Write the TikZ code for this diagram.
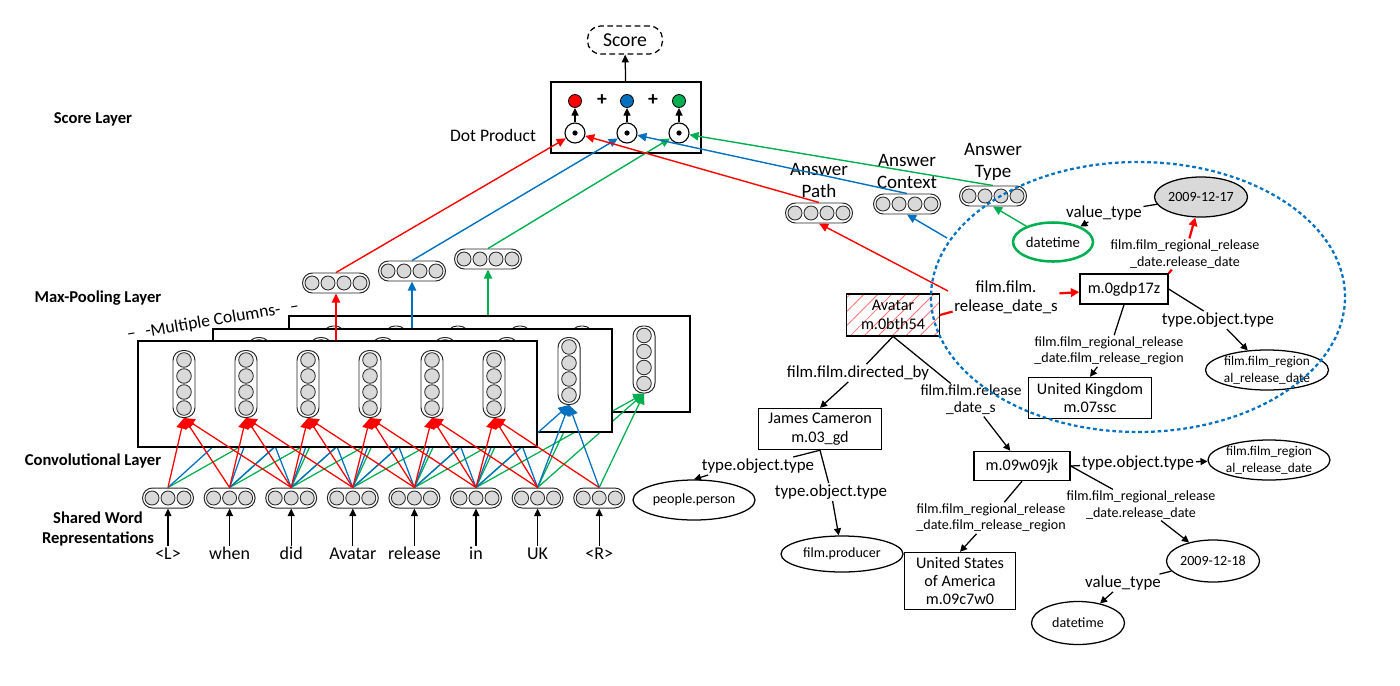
\documentclass[tikz,border=0pt]{standalone}
\usepackage{fontspec}
\setmainfont{Carlito}
\usepackage{xcolor}
\usepackage{tikz}
\usetikzlibrary{positioning, arrows.meta, shapes.geometric, patterns.meta}

\definecolor{cred}{HTML}{FF0000}
\definecolor{cblue}{HTML}{0070C0}
\definecolor{cgreen}{HTML}{00B050}
\definecolor{cellgray}{HTML}{D9D9D9}

\newdimen\pxu \pxu=0.025cm
\newcommand{\fsz}[2]{\fontsize{#1}{#2}\selectfont}

% horizontal vector with #3 cells
\newcommand{\hvec}[3]{%
  \node[vecbox, minimum width=(#3*16+3)*\pxu, minimum height=20\pxu] (#1) at #2 {};
  \foreach \ci in {1,...,#3}
    \draw[cellc] (#1.center) ++({(\ci-(#3+1)/2)*16},0) circle[radius=7\pxu];
}
% vertical vector with #3 cells
\newcommand{\vvec}[3]{%
  \node[vecbox, minimum width=22\pxu, minimum height=(#3*16+3)*\pxu] (#1) at #2 {};
  \foreach \ci in {1,...,#3}
    \draw[cellc] (#1.center) ++(0,{(\ci-(#3+1)/2)*16}) circle[radius=7.3\pxu];
}

\begin{document}
\begin{tikzpicture}[
  x=0.025cm, y=-0.025cm,
  every node/.style={font=\fsz{11.5}{13.5}},
  layername/.style={font=\bfseries\fsz{11.8}{14}, align=center},
  vecbox/.style={draw=black!85, line width=0.7pt, rounded corners=10\pxu, inner sep=0pt, fill=white},
  cellc/.style={draw=black!85, line width=0.6pt, fill=cellgray},
  convbox/.style={draw, line width=1.1pt, fill=white, inner sep=0pt},
  scorebox/.style={draw, dash pattern=on 4pt off 2.5pt, rounded corners=13\pxu, minimum width=75\pxu,
                   minimum height=28\pxu, line width=0.9pt, font=\fsz{14}{16}},
  dotbox/.style={draw, line width=1.1pt, minimum width=150\pxu, minimum height=71\pxu},
  sdot/.style={circle, draw, line width=0.6pt, minimum size=13\pxu, inner sep=0pt},
  odot/.style={circle, draw, line width=0.8pt, minimum size=20\pxu, inner sep=0pt},
  plussign/.style={font=\bfseries\fsz{14}{16}, inner sep=0pt},
  word/.style={font=\fsz{12.8}{14}, inner sep=1pt, text height=9pt, text depth=2pt},
  anslbl/.style={font=\fsz{13.5}{15.5}, align=center, inner sep=1pt},
  ent/.style={draw, line width=1pt, align=center, inner sep=2pt, font=\fsz{11.5}{13}},
  ell/.style={ellipse, draw, line width=0.9pt, align=center, inner sep=0pt, font=\fsz{10}{12}},
  elbl/.style={font=\fsz{12}{13.5}, align=center, inner sep=1pt},
  mlbl/.style={font=\fsz{11}{12}, align=center, inner sep=1pt},
  slbl/.style={font=\fsz{10}{11.5}, align=center, inner sep=1pt},
  blk/.style={line width=0.9pt, -{Triangle[length=5.5pt,width=5pt]}},
  carr/.style={line width=0.9pt, -{Triangle[length=7.5pt,width=7.5pt]}},
  parr/.style={line width=1pt, -{Triangle[length=6.5pt,width=6pt]}},
  kglink/.style={line width=0.9pt},
  kgarr/.style={kglink, -{Triangle[length=5pt,width=5pt]}},
  rlink/.style={cred, line width=1.6pt},
  rarrow/.style={rlink, -{Triangle[length=6pt,width=6pt]}},
  region/.style={ellipse, draw=cblue, line width=1.6pt, dash pattern=on 2.6pt off 2pt, inner sep=0pt},
]
\useasboundingbox (0,0) rectangle (1400,685);

% Layer names
\node[layername] (lscore) at (93,119) {Score Layer};
\node[layername] (lpool) at (98,298) {Max-Pooling Layer};
\node[layername] (lconv) at (93,461) {Convolutional Layer};
\node[layername] (lword) at (98,529) {Shared Word\\Representations};

% Score and dot product
\node[scorebox] (score) at (625,40) {Score};
\node[dotbox] (dotbox) at (626,117.5) {};
\draw[blk] (dotbox) -- (score);
\node[sdot, fill=cred] (sred) at (575,101) {};
\node[plussign] (plusA) at (602,100) {+};
\node[sdot, fill=cblue] (sblue) at (627,101) {};
\node[plussign] (plusB) at (653,100) {+};
\node[sdot, fill=cgreen] (sgreen) at (679,101) {};
\foreach \i/\x in {1/575, 2/627, 3/679} {
  \node[odot] (dot\i) at (\x,133) {};
  \fill (dot\i) circle[radius=2.6\pxu];
}
\draw[blk] (dot1) -- (sred);
\draw[blk] (dot2) -- (sblue);
\draw[blk] (dot3) -- (sgreen);
\node[anchor=east, font=\fsz{12.5}{14}] (dplbl) at (541,135) {Dot Product};

% Shared word representations
\foreach \w [count=\i from 0] in {<L>,when,did,Avatar,release,in,UK,<R>} {
  \node[word] (t\i) at ({168+61.6*\i},555) {\w};
  \hvec{e\i}{({168+61.6*\i},498)}{3}
  \draw[blk] (t\i.north) -- (e\i.south);
}

% Convolutional layer (three filters)
\node[convbox, minimum width=401\pxu, minimum height=96\pxu] (cbox3) at (489.5,364) {};
\foreach \k in {0,...,5} {\vvec{col3\k}{({334+62*\k},359.5)}{4}}
\foreach \k in {0,...,5} \foreach \j in {0,1,2} {
  \pgfmathtruncatemacro{\w}{\k+\j}
  \draw[carr, cgreen] (e\w.north) -- (col3\k.south);
}
\node[convbox, minimum width=399\pxu, minimum height=103\pxu] (cbox2) at (412.5,380.5) {};
\foreach \k in {0,...,5} {\vvec{col2\k}{({259+62*\k},371)}{4}}
\foreach \k in {0,...,5} \foreach \j in {0,1,2} {
  \pgfmathtruncatemacro{\w}{\k+\j}
  \draw[carr, cblue] (e\w.north) -- (col2\k.south);
}
\node[convbox, minimum width=399\pxu, minimum height=106\pxu] (cbox1) at (337.5,394) {};
\foreach \k in {0,...,5} {\vvec{col1\k}{({184+62*\k},384)}{4}}
\foreach \k in {0,...,5} \foreach \j in {0,1,2} {
  \pgfmathtruncatemacro{\w}{\k+\j}
  \draw[carr, cred] (e\w.north) -- (col1\k.south);
}

% Max-pooling layer
\hvec{mp1}{(336,283)}{4}
\hvec{mp2}{(412,271)}{4}
\hvec{mp3}{(488,259)}{4}
\draw[parr, cred] (mp1.south |- cbox1.north) -- (mp1.south);
\draw[parr, cblue] (mp2.south |- cbox2.north) -- (mp2.south);
\draw[parr, cgreen] (mp3.south |- cbox3.north) -- (mp3.south);
\node[rotate=9.5, inner sep=0pt, font=\fsz{12.5}{14}] (multi) at (213,321) {--\hspace{7pt}-Multiple Columns-\hspace{7pt}--};

\draw[parr, cred] (mp1.north) -- (dot1);
\draw[parr, cblue] (mp2.north) -- (dot2);
\draw[parr, cgreen] (mp3.north) -- (dot3);

% Answer vectors
\hvec{apath}{(819,213)}{4}
\hvec{actx}{(907,204)}{4}
\hvec{atype}{(993,196)}{4}
\node[anslbl, above=0.8mm of apath] (lpath) {Answer\\Path};
\node[anslbl, above=0.8mm of actx] (lctx) {Answer\\Context};
\node[anslbl, above=0.8mm of atype] (ltype) {Answer\\Type};
\draw[parr, cred] (apath.north) -- (dot1);
\draw[parr, cblue] (actx.north) -- (dot2);
\draw[parr, cgreen] (atype.north) -- (dot3);

% Knowledge base subgraph
\node[ent, minimum width=93\pxu, minimum height=42\pxu,
      pattern={Lines[angle=45, distance=7pt, line width=0.6pt]}, pattern color=cred!55] (avatar) at (893,315) {Avatar\\m.0bth54};
\node[ent, minimum width=88\pxu, minimum height=30\pxu] (mgdp) at (1124,289) {m.0gdp17z};
\node[ent, minimum width=123\pxu, minimum height=41\pxu] (ukbox) at (1090,398) {United Kingdom\\m.07ssc};
\node[ent, minimum width=123\pxu, minimum height=41\pxu] (jcam) at (820,429) {James Cameron\\m.03\_gd};
\node[ent, minimum width=96\pxu, minimum height=29\pxu] (mw) at (1022,466) {m.09w09jk};
\node[ent, minimum width=111\pxu, minimum height=57\pxu] (usa) at (960,581) {United States\\of America\\m.09c7w0};

\node[ell, minimum width=122\pxu, minimum height=40\pxu] (ppl) at (694,500) {people.person};
\node[ell, minimum width=122\pxu, minimum height=36\pxu] (prod) at (842,554) {film.producer};
\node[ell, minimum width=123\pxu, minimum height=40\pxu, font=\fsz{9.5}{12}] (frdA) at (1267,370) {film.film\_region\\al\_release\_date};
\node[ell, minimum width=122\pxu, minimum height=40\pxu, font=\fsz{9.5}{12}] (frdB) at (1269,460) {film.film\_region\\al\_release\_date};
\node[ell, fill=cellgray, minimum width=93\pxu, minimum height=40\pxu] (d17) at (1201,197) {2009-12-17};
\node[ell, draw=cgreen, line width=1.8pt, minimum width=80\pxu, minimum height=39\pxu, font=\fsz{10.5}{12}] (dtgreen) at (1053,242) {datetime};
\node[ell, minimum width=93\pxu, minimum height=42\pxu] (d18) at (1213,561) {2009-12-18};
\node[ell, minimum width=93\pxu, minimum height=43\pxu] (dtime) at (1078,623) {datetime};

% Edge labels
\node[elbl] (vtA) at (1104,213) {value\_type};
\node[slbl] (rdA) at (1185,254) {film.film\_regional\_release\\\_date.release\_date};
\node[elbl] (rsA) at (1006,297) {film.film.\\release\_date\_s};
\node[elbl] (totA) at (1218,320) {type.object.type};
\node[slbl] (rrA) at (1109,351) {film.film\_regional\_release\\\_date.film\_release\_region};
\node[elbl] (dirby) at (858,373) {film.film.directed\_by};
\node[mlbl] (rsB) at (971,400) {film.film.release\\\_date\_s};
\node[elbl] (totB) at (758,466) {type.object.type};
\node[elbl] (totC) at (831,492) {type.object.type};
\node[elbl] (totD) at (1138,463) {type.object.type};
\node[slbl] (rdB) at (1141,505) {film.film\_regional\_release\\\_date.release\_date};
\node[slbl] (rrB) at (991,518) {film.film\_regional\_release\\\_date.film\_release\_region};
\node[elbl] (vtB) at (1123,583) {value\_type};

% Edges
\draw[kglink] (d17) -- (vtA);
\draw[kgarr] (vtA) -- (dtgreen);
\draw[rlink] (mgdp.north east) -- (rdA);
\draw[rarrow] (rdA) -- (d17);
\draw[rlink] (avatar.east) -- (rsA);
\draw[rarrow] (rsA) -- (mgdp);
\draw[kglink] (mgdp.east) -- (totA);
\draw[kgarr] (totA) -- (frdA);
\draw[kglink] (mgdp.south) -- (rrA);
\draw[kgarr] (rrA) -- (ukbox.north);
\draw[kglink] (avatar.south) -- (dirby);
\draw[kgarr] (dirby) -- (jcam.north);
\draw[kglink] (avatar.south) -- (rsB);
\draw[kgarr] (rsB) -- (mw);
\draw[kglink] (jcam.south) -- (totB);
\draw[kgarr] ([xshift=8\pxu]totB.south west) -- (ppl.north);
\draw[kglink] (jcam.south) -- (totC);
\draw[kgarr] (totC) -- (prod);
\draw[kglink] (mw.east) -- (totD);
\draw[kgarr] (totD) -- (frdB);
\draw[kglink] (mw.east) -- (rdB);
\draw[kgarr] (rdB) -- (d18);
\draw[kglink] (mw.south) -- (rrB);
\draw[kgarr] (rrB) -- (usa.north);
\draw[kglink] (d18) -- (vtB);
\draw[kgarr] (vtB) -- (dtime);

% Paths into the answer vectors
\coordinate (pathin) at (948,291);
\coordinate (ctxin) at (947,238);
\draw[parr, cred] (pathin) -- (apath.south);
\draw[parr, cblue] (ctxin) -- (actx.south);
\draw[parr, cgreen] (dtgreen) -- (atype.south);

% Answer context region
\node[region, minimum width=414\pxu, minimum height=270\pxu] (ctxregion) at (1138,297) {};

\end{tikzpicture}
\end{document}
